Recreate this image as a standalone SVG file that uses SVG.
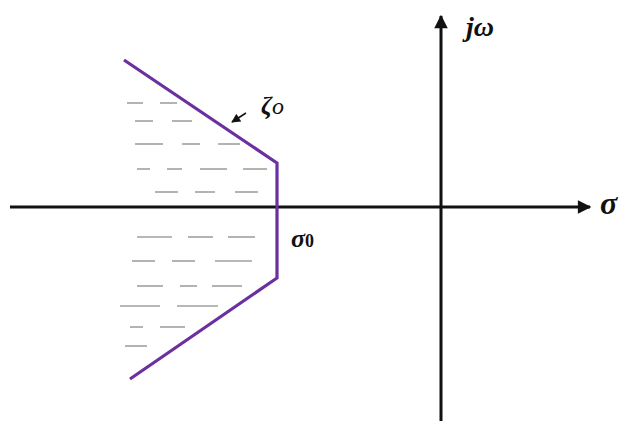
<svg xmlns="http://www.w3.org/2000/svg" width="623" height="426" viewBox="0 0 623 426">
<style>
.axis{stroke:#111;stroke-width:3;fill:none}
.bound{stroke:#6b2fa0;stroke-width:3.2;fill:none;stroke-linejoin:miter}
.hatch line{stroke:#a0a0a0;stroke-width:1.6}
.lbl{font-family:"Liberation Serif",serif;font-style:italic;fill:#111}
</style>
<defs>
<marker id="ah" viewBox="0 0 10 10" refX="9" refY="5" markerWidth="5" markerHeight="4.5" orient="auto" markerUnits="strokeWidth">
<path d="M0,0 L10,5 L0,10 z" fill="#111"/>
</marker>
<marker id="sa" viewBox="0 0 10 10" refX="9" refY="5" markerWidth="7" markerHeight="6" orient="auto" markerUnits="strokeWidth">
<path d="M0,0 L10,5 L0,10 z" fill="#111"/>
</marker>
</defs>
<g id="hatching" class="hatch">
<line x1="127" y1="103" x2="143" y2="103"/><line x1="160" y1="103" x2="177" y2="103"/>
<line x1="135" y1="121" x2="153" y2="121"/><line x1="172" y1="121" x2="192" y2="121"/>
<line x1="135" y1="144" x2="163" y2="144"/><line x1="182" y1="144" x2="200" y2="144"/><line x1="218" y1="144" x2="240" y2="144"/>
<line x1="137" y1="169" x2="150" y2="169"/><line x1="167" y1="169" x2="182" y2="169"/><line x1="200" y1="169" x2="227" y2="169"/><line x1="243" y1="169" x2="267" y2="169"/>
<line x1="155" y1="192" x2="178" y2="192"/><line x1="195" y1="192" x2="215" y2="192"/><line x1="235" y1="192" x2="258" y2="192"/>
<line x1="137" y1="237" x2="172" y2="237"/><line x1="188" y1="237" x2="213" y2="237"/><line x1="228" y1="237" x2="255" y2="237"/>
<line x1="132" y1="261" x2="155" y2="261"/><line x1="172" y1="261" x2="195" y2="261"/><line x1="215" y1="261" x2="252" y2="261"/>
<line x1="137" y1="286" x2="163" y2="286"/><line x1="180" y1="286" x2="197" y2="286"/><line x1="212" y1="286" x2="242" y2="286"/>
<line x1="120" y1="306" x2="160" y2="306"/><line x1="177" y1="306" x2="218" y2="306"/>
<line x1="130" y1="327" x2="143" y2="327"/><line x1="160" y1="327" x2="185" y2="327"/>
<line x1="125" y1="346" x2="147" y2="346"/>
</g>
<g id="connectors">
<line id="sigma-axis" class="axis" x1="10" y1="207" x2="590" y2="207" marker-end="url(#ah)"/>
<line id="jw-axis" class="axis" x1="441" y1="421" x2="441" y2="16" marker-end="url(#ah)"/>
<polyline id="boundary" class="bound" points="124,60 277,163 277,278 130,379"/>
<line id="zeta-arrow" x1="246" y1="113" x2="232" y2="122" stroke="#111" stroke-width="1.5" marker-end="url(#sa)"/>
</g>
<g id="labels">
<text id="jw-label" class="lbl" x="466" y="36" font-size="28" font-weight="bold">jω</text>
<text id="sigma-label" class="lbl" x="600" y="214" font-size="32" font-weight="bold">σ</text>
<text id="zeta-label" class="lbl" x="261" y="114" font-size="25" font-weight="bold">ζ<tspan font-size="24" font-weight="normal">o</tspan></text>
<text id="sigma0-label" class="lbl" x="291" y="247" font-size="26" font-weight="bold">σ<tspan font-style="normal" font-size="18">0</tspan></text>
</g>
</svg>
